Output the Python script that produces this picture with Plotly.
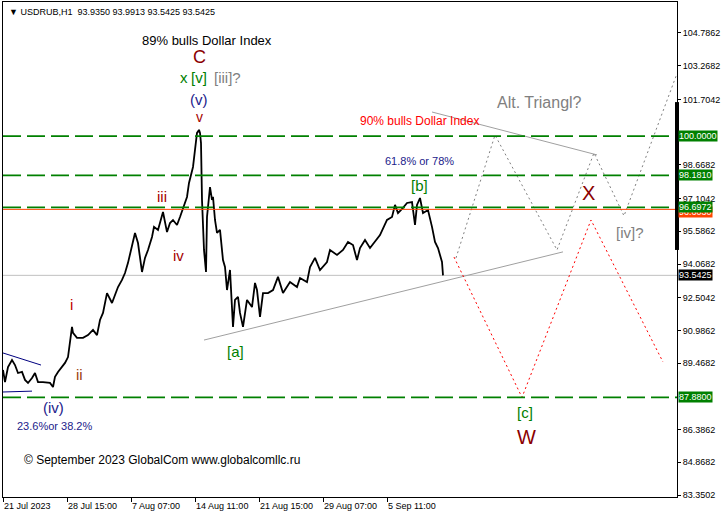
import plotly.graph_objects as go

# ---- price series (bar index, close) ----
bars = [0, 2, 5, 9, 12, 15, 19, 22, 25, 29, 32, 35, 40, 47, 50, 52, 55, 59, 62, 65, 67, 69, 70, 74,
        80, 85, 90, 94, 97, 100, 104, 109, 112, 115, 119, 122, 125, 129, 132, 135, 139, 142, 145,
        149, 151, 155, 160, 164, 167, 170, 174, 177, 180, 184, 186, 190, 192, 194, 196, 197, 198,
        199, 201, 203, 204, 207, 209, 210, 212, 214, 217, 220, 222, 224, 227, 230, 232, 235, 237,
        240, 244, 249, 252, 254, 257, 260, 265, 270, 275, 280, 287, 294, 297, 304, 307, 312, 317,
        324, 327, 334, 340, 345, 350, 354, 357, 362, 367, 372, 377, 384, 389, 392, 395, 400, 404,
        409, 412, 414, 417, 420, 425, 429, 432, 435, 439, 440]
closes = [89.15, 88.59, 89.29, 89.61, 89.38, 89.01, 89.06, 88.69, 88.55, 88.78, 89.01, 88.59, 88.59,
          88.55, 88.36, 88.83, 89.06, 89.29, 89.48, 89.75, 90.40, 91.15, 90.87, 90.64,
          90.64, 90.77, 91.01, 90.77, 91.47, 91.80, 92.72, 92.26, 92.63, 93.00, 93.33, 93.65, 94.12,
          94.86, 95.51, 95.04, 93.70, 94.35, 94.72,
          95.32, 95.79, 95.65, 96.48, 95.55, 95.97, 96.11, 95.88, 96.25, 96.67, 97.18, 97.83, 98.57,
          99.36, 100.15, 100.29, 100.15, 99.68,
          97.04, 94.72, 93.70, 96.25, 97.64, 97.04, 97.18, 96.11, 95.51, 95.65, 94.25, 93.93, 92.86,
          93.79, 91.15, 92.40, 92.54, 91.80,
          91.15, 92.40, 92.07, 93.19, 92.86, 91.61, 92.72, 92.72, 92.86, 93.47, 92.72, 93.23, 93.00,
          93.42, 93.23, 93.93, 94.35, 93.79,
          94.16, 94.72, 94.49, 94.72, 95.09, 94.95, 94.25, 94.81, 95.18, 94.81, 95.09, 95.41, 96.11,
          96.25, 96.81, 96.43, 96.67, 96.90,
          96.94, 95.88, 96.81, 97.13, 96.43, 96.57, 95.79, 95.09, 94.81, 94.16, 93.5425]

# ---- levels ----
green_levels = [100.0000, 98.1810, 96.6972, 87.8800]
orange_level = 96.6030
last_price = 93.5425
axis_range_bar = [101.58, 94.72]

# ---- projections / trend lines ----
tri_upper_bars, tri_upper_prices = [429, 594], [101.12, 99.13]
tri_lower_bars, tri_lower_prices = [201, 560], [90.54, 94.63]
alt_bars, alt_prices = [453, 492, 554, 591, 621, 673], [94.35, 100.05, 94.72, 99.22, 96.30, 102.78]
red_bars, red_prices = [451, 519, 588, 660], [94.39, 87.88, 96.11, 89.52]
navy1_bars, navy1_prices = [0, 38], [89.94, 89.38]
navy2_bars, navy2_prices = [0, 29], [88.13, 88.17]

# ---- axes ----
y_ticks = [104.7862, 103.2682, 101.7042, 98.6682, 97.1042, 95.5862, 94.0682,
           92.5042, 90.9862, 89.4682, 86.3862, 84.8682, 83.3502]
x_tick_bars = [0, 64, 128, 192, 256, 320, 384]
x_tick_labels = ["21 Jul 2023", "28 Jul 15:00", "7 Aug 07:00", "14 Aug 11:00",
                 "21 Aug 15:00", "29 Aug 07:00", "5 Sep 11:00"]
x_range = [0, 674]
y_range = [83.258, 106.224]

# ---- wave labels: (text, bar, price, colour, size) ----
labels = [
    ("89% bulls Dollar Index", 204, 104.46, "#000000", 13),
    ("C", 196, 103.67, "#8B0000", 18),
    ("x", 181, 102.74, "#008000", 15),
    ("[v]", 196, 102.74, "#008000", 15),
    ("[iii]?", 224, 102.74, "#808080", 15),
    ("(v)", 196, 101.72, "#22228B", 15),
    ("v", 196, 100.89, "#A50000", 14),
    ("iii", 159, 97.22, "#A50000", 15),
    ("iv", 175, 94.44, "#A50000", 15),
    ("i", 68, 92.21, "#C00000", 15),
    ("ii", 76, 88.92, "#9B3D12", 15),
    ("(iv)", 50, 87.39, "#22228B", 15),
    ("23.6%or 38.2%", 51, 86.55, "#22228B", 11),
    ("[a]", 232, 89.99, "#008000", 15),
    ("[b]", 416, 97.69, "#008000", 15),
    ("90% bulls Dollar Index", 416, 100.70, "#FF0000", 12),
    ("61.8% or 78%", 416, 98.85, "#22228B", 11),
    ("Alt. Triangl?", 536, 101.54, "#808080", 16),
    ("X", 585, 97.36, "#8B0000", 20),
    ("[iv]?", 627, 95.51, "#808080", 15),
    ("[c]", 522, 87.16, "#008000", 15),
    ("W", 523, 86.04, "#8B0000", 20),
]
copyright_text = "© September 2023 GlobalCom www.globalcomllc.ru"
copyright_pos = (19, 84.97)
header_text = "▼ USDRUB,H1  93.9350 93.9913 93.5425 93.5425"

FONT = "Liberation Sans, Arial, sans-serif"

fig = go.Figure()

fig.add_trace(go.Scatter(x=tri_upper_bars, y=tri_upper_prices, mode="lines",
                         line=dict(color="#A0A0A0", width=1), hoverinfo="skip"))
fig.add_trace(go.Scatter(x=tri_lower_bars, y=tri_lower_prices, mode="lines",
                         line=dict(color="#A0A0A0", width=1), hoverinfo="skip"))
fig.add_trace(go.Scatter(x=alt_bars, y=alt_prices, mode="lines",
                         line=dict(color="#808080", width=1, dash="2px,3px"), hoverinfo="skip"))
fig.add_trace(go.Scatter(x=red_bars, y=red_prices, mode="lines",
                         line=dict(color="#FF0000", width=1, dash="2px,3px"), hoverinfo="skip"))
fig.add_trace(go.Scatter(x=navy1_bars, y=navy1_prices, mode="lines",
                         line=dict(color="#000080", width=1), hoverinfo="skip"))
fig.add_trace(go.Scatter(x=navy2_bars, y=navy2_prices, mode="lines",
                         line=dict(color="#000080", width=1), hoverinfo="skip"))
fig.add_trace(go.Scatter(x=bars, y=closes, mode="lines",
                         line=dict(color="#000000", width=1.8), hoverinfo="skip"))

shapes = []
shapes.append(dict(type="line", xref="paper", x0=0, x1=1, yref="y", y0=last_price, y1=last_price,
                   line=dict(color="#C0C0C0", width=1), layer="below"))
shapes.append(dict(type="line", xref="paper", x0=0, x1=1, yref="y", y0=orange_level, y1=orange_level,
                   line=dict(color="#FF4500", width=1)))
for lv in green_levels:
    shapes.append(dict(type="line", xref="paper", x0=0, x1=1, yref="y", y0=lv, y1=lv,
                       line=dict(color="#008000", width=1.6, dash="18px,6px")))
shapes.append(dict(type="line", xref="paper", x0=1, x1=1, yref="y",
                   y0=axis_range_bar[0], y1=axis_range_bar[1],
                   line=dict(color="#000000", width=4)))

annotations = []
for text, bx, py, col, size in labels:
    annotations.append(dict(x=bx, y=py, xref="x", yref="y", text=text, showarrow=False,
                            font=dict(family=FONT, size=size, color=col)))
annotations.append(dict(x=copyright_pos[0], y=copyright_pos[1], xref="x", yref="y",
                        text=copyright_text, showarrow=False, xanchor="left",
                        font=dict(family=FONT, size=12, color="#000000")))
annotations.append(dict(x=0, y=1, xref="paper", yref="paper", xanchor="left", yanchor="top",
                        xshift=4, yshift=-3, text=header_text, showarrow=False,
                        font=dict(family=FONT, size=9, color="#000000")))

# price boxes on the right axis
annotations.append(dict(x=1, y=orange_level - 0.14, xref="paper", yref="y", xanchor="left", xshift=1,
                        text=f"{orange_level:.4f}", showarrow=False, bgcolor="#FF4500",
                        borderpad=0, font=dict(family=FONT, size=9, color="#FFFFFF")))
for lv in green_levels:
    annotations.append(dict(x=1, y=lv, xref="paper", yref="y", xanchor="left", xshift=1,
                            text=f"{lv:.4f}", showarrow=False, bgcolor="#008000",
                            borderpad=0, font=dict(family=FONT, size=9, color="#FFFFFF")))
annotations.append(dict(x=1, y=last_price, xref="paper", yref="y", xanchor="left", xshift=1,
                        text=f"{last_price:.4f}", showarrow=False, bgcolor="#000000",
                        borderpad=0, font=dict(family=FONT, size=9, color="#FFFFFF")))

fig.update_layout(
    width=722, height=518,
    margin=dict(l=3, r=45, t=2, b=21),
    paper_bgcolor="#FFFFFF", plot_bgcolor="#FFFFFF",
    showlegend=False,
    shapes=shapes, annotations=annotations,
    xaxis=dict(range=x_range, tickmode="array", tickvals=x_tick_bars, ticktext=x_tick_labels,
               showgrid=False, zeroline=False, showline=True, linecolor="#000000", linewidth=1,
               mirror=True, ticks="outside", ticklen=4, tickcolor="#000000",
               ticklabelposition="outside right",
               tickfont=dict(family=FONT, size=9, color="#000000")),
    yaxis=dict(range=y_range, side="right", tickmode="array", tickvals=y_ticks,
               ticktext=[f"{v:.4f}" for v in y_ticks],
               showgrid=False, zeroline=False, showline=True, linecolor="#000000", linewidth=1,
               mirror=True, ticks="outside", ticklen=3, tickcolor="#000000",
               tickfont=dict(family=FONT, size=9, color="#000000")),
)

fig.write_html("out.html", config={"displayModeBar": False},
               post_script="document.body.style.margin='0';document.body.style.padding='0';"
                           "document.body.style.overflow='hidden';")
